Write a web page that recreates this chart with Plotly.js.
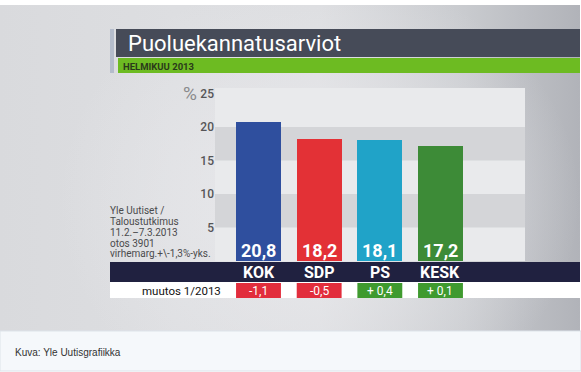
<!DOCTYPE html>
<html>
<head>
<meta charset="utf-8">
<script src="https://cdn.plot.ly/plotly-3.0.1.min.js"></script>
<style>
html,body{margin:0;padding:0;background:#fff;}
#wrap{position:relative;width:581px;height:372px;overflow:hidden;}
#bg{position:absolute;left:0;top:5px;width:580px;height:326px;
 background:
  radial-gradient(ellipse 45% 70% at 55% 60%, rgba(236,236,239,0.85) 0%, rgba(236,236,239,0) 100%),
  linear-gradient(to right, #d9dadd 0%, #dddee1 30%, #dcdde0 55%, #c9cbcf 80%, #b1b3b9 100%);}
#chart{position:absolute;left:0;top:0;width:581px;height:372px;}
</style>
</head>
<body>
<div id="wrap"><div id="bg"></div><div id="chart"></div></div>
<script>
// ---- data ----
var parties = ['KOK', 'SDP', 'PS', 'KESK'];
var support = [20.8, 18.2, 18.1, 17.2];
var supportLabels = ['20,8', '18,2', '18,1', '17,2'];
var changes = [-1.1, -0.5, 0.4, 0.1];
var changeLabels = ['-1,1', '-0,5', '+ 0,4', '+ 0,1'];
var barColors = ['#2f4f9e', '#e33136', '#20a3c8', '#3d8b37'];
var yTicks = [5, 10, 15, 20, 25];
var titleText = 'Puoluekannatusarviot';
var subtitleText = 'HELMIKUU 2013';
var sourceLines = ['Yle Uutiset /', 'Taloustutkimus', '11.2.–7.3.2013', 'otos 3901', 'virhemarg.+\\-1,3%-yks.'];
var changeTitle = 'muutos 1/2013';
var captionText = 'Kuva: Yle Uutisgrafiikka';

// ---- layout geometry (pixels) ----
var W = 581, H = 372;
var L = 215, R = 525, T = 88, B = 261;
function px(x){ return (x - L) / (R - L); }
function py(y){ return (B - y) / (B - T); }

var FONT = 'Roboto, "Liberation Sans", Arial, sans-serif';
var idx = parties.map(function(_, i){ return i; });
var halfW = 0.37;

var shapes = [];
// alternating bands
shapes.push({type:'rect', xref:'paper', yref:'y', x0:0, x1:1, y0:15, y1:20, fillcolor:'#d4d5d8', line:{width:0}, layer:'below'});
shapes.push({type:'rect', xref:'paper', yref:'y', x0:0, x1:1, y0:5, y1:10, fillcolor:'#d4d5d8', line:{width:0}, layer:'below'});
// title stripe, title bar, green bar
shapes.push({type:'rect', xref:'paper', yref:'paper', x0:px(110), x1:px(114), y0:py(73), y1:py(29), fillcolor:'#b4bccb', line:{width:0}});
shapes.push({type:'rect', xref:'paper', yref:'paper', x0:px(116), x1:px(580), y0:py(57), y1:py(29), fillcolor:'#464b58', line:{width:0}});
shapes.push({type:'rect', xref:'paper', yref:'paper', x0:px(118), x1:px(580), y0:py(73), y1:py(58), fillcolor:'#6dbb22', line:{width:0}});
// navy band + white row
shapes.push({type:'rect', xref:'paper', yref:'paper', x0:px(110), x1:px(580), y0:py(282), y1:py(262), fillcolor:'#202140', line:{width:0}});
shapes.push({type:'rect', xref:'paper', yref:'paper', x0:px(110), x1:px(580), y0:py(298), y1:py(282), fillcolor:'#ffffff', line:{width:0}});
// caption area
shapes.push({type:'rect', xref:'paper', yref:'paper', x0:px(0), x1:px(581), y0:py(371), y1:py(331), fillcolor:'#f5f8fb', line:{width:1, color:'#dde3ea'}});

var annotations = [];
changes.forEach(function(c, i){
  shapes.push({type:'rect', xref:'x', yref:'paper', x0:i - halfW, x1:i + halfW, y0:py(298), y1:py(283),
    fillcolor: c < 0 ? '#e22d3c' : '#3f9a2f', line:{width:0}});
  annotations.push({xref:'x', yref:'paper', x:i, y:py(290.5), text:changeLabels[i], showarrow:false,
    font:{family:FONT, size:12, color:'#ffffff'}, xanchor:'center', yanchor:'middle'});
});
support.forEach(function(v, i){
  annotations.push({xref:'x', yref:'y', x:i, y:0, text:'<b>' + supportLabels[i] + '</b>', showarrow:false,
    font:{family:FONT, size:18, color:'#ffffff'}, xanchor:'center', yanchor:'bottom', yshift:-2});
  annotations.push({xref:'x', yref:'paper', x:i, y:py(272), text:'<b>' + parties[i] + '</b>', showarrow:false,
    font:{family:FONT, size:16, color:'#ffffff'}, xanchor:'center', yanchor:'middle'});
});
annotations.push({xref:'paper', yref:'paper', x:px(223), y:py(290.5), text:changeTitle, showarrow:false,
  font:{family:FONT, size:11.5, color:'#111111'}, xanchor:'right', yanchor:'middle'});
annotations.push({xref:'paper', yref:'paper', x:px(126), y:py(43), text:titleText, showarrow:false,
  font:{family:FONT, size:22, color:'#ffffff'}, xanchor:'left', yanchor:'middle'});
annotations.push({xref:'paper', yref:'paper', x:px(121), y:py(66), text:'<b>' + subtitleText + '</b>', showarrow:false,
  font:{family:FONT, size:9.5, color:'#2a3a1a'}, xanchor:'left', yanchor:'middle'});
annotations.push({xref:'paper', yref:'paper', x:px(199), y:py(93), text:'%', showarrow:false,
  font:{family:FONT, size:19, color:'#8a8a8c'}, xanchor:'right', yanchor:'middle'});
var lineY = [210.5, 221.5, 232.5, 243, 253];
sourceLines.forEach(function(s, k){
  annotations.push({xref:'paper', yref:'paper', x:px(108), y:py(lineY[k]), text:s, showarrow:false,
    font:{family:FONT, size:10, color:'#4a4a4c'}, xanchor:'left', yanchor:'middle', align:'left'});
});
annotations.push({xref:'paper', yref:'paper', x:px(13), y:py(352), text:captionText, showarrow:false,
  font:{family:'"Liberation Sans", Arial, sans-serif', size:10, color:'#333333'}, xanchor:'left', yanchor:'middle'});

var trace = {
  type:'bar', x: idx, y: support, width: 0.74,
  marker:{color: barColors, line:{width:0}},
  hoverinfo:'skip', showlegend:false
};

var layout = {
  width: W, height: H,
  margin:{l:L, r:W - R, t:T, b:H - B, pad:0},
  paper_bgcolor:'rgba(0,0,0,0)',
  plot_bgcolor:'#e9eaec',
  xaxis:{range:[-0.717, 4.393], showticklabels:false, showgrid:false, zeroline:false, showline:false, fixedrange:true},
  yaxis:{range:[0, (B - T) / ((B - 93.5) / 25)], tickvals:yTicks, ticktext:yTicks.map(String),
    showgrid:false, zeroline:false, showline:false, ticks:'',
    tickfont:{family:FONT, size:12, color:'#555557', weight:500}, fixedrange:true},
  shapes: shapes,
  annotations: annotations,
  bargap: 0
};

Plotly.newPlot('chart', [trace], layout, {displayModeBar:false, staticPlot:true});
</script>
</body>
</html>
